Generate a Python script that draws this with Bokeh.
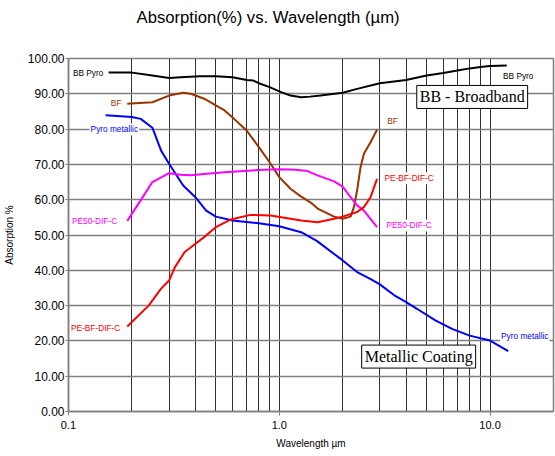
from bokeh.plotting import figure
from bokeh.models import FixedTicker, Label, PrintfTickFormatter, CustomJSTickFormatter, Title
from bokeh.embed import file_html
from bokeh.resources import INLINE

# ---------------- data ----------------
bb_pyro_x = [0.155, 0.2, 0.25, 0.3, 0.34, 0.42, 0.5, 0.6, 0.7, 0.75, 0.8, 0.9, 1.0, 1.13, 1.27, 1.4, 1.57, 2.0, 2.34, 3.0, 4.0, 5.0, 6.0, 7.0, 8.0, 9.0, 10.0, 12.0]
bb_pyro_y = [96.0, 96.0, 95.2, 94.5, 94.7, 95.0, 95.0, 94.7, 93.9, 93.8, 93.0, 91.9, 90.7, 89.5, 89.0, 89.2, 89.5, 90.3, 91.4, 93.0, 93.9, 95.2, 95.9, 96.6, 97.2, 97.6, 97.9, 98.0]

bf_x = [0.19, 0.25, 0.3, 0.35, 0.38, 0.44, 0.5, 0.55, 0.61, 0.7, 0.8, 0.9, 1.0, 1.13, 1.26, 1.41, 1.52, 1.82, 2.0, 2.18, 2.26, 2.34, 2.43, 2.52, 2.71, 2.91]
bf_y = [87.2, 87.6, 89.5, 90.3, 90.0, 88.6, 86.7, 85.3, 82.9, 79.6, 74.9, 70.6, 66.4, 63.1, 61.0, 59.2, 57.5, 55.2, 54.6, 55.2, 57.9, 62.6, 69.2, 73.0, 76.3, 79.8]

pyro_met_x = [0.15, 0.2, 0.22, 0.25, 0.275, 0.3, 0.35, 0.4, 0.45, 0.5, 0.6, 0.8, 1.0, 1.27, 1.5, 2.0, 2.34, 2.7, 3.0, 3.5, 4.0, 4.5, 5.5, 6.6, 8.0, 10.0, 12.2]
pyro_met_y = [83.9, 83.4, 82.9, 80.4, 73.9, 70.2, 64.0, 60.7, 56.9, 55.2, 54.1, 53.3, 52.5, 50.8, 48.4, 42.8, 39.5, 37.6, 36.0, 33.0, 31.0, 29.1, 25.8, 23.4, 21.5, 20.1, 17.1]

pe50_x = [0.19, 0.22, 0.25, 0.3, 0.34, 0.38, 0.44, 0.55, 0.79, 1.0, 1.2, 1.36, 1.52, 1.82, 2.0, 2.18, 2.34, 2.52, 2.91]
pe50_y = [54.0, 59.8, 65.0, 67.5, 67.1, 66.9, 67.3, 67.8, 68.4, 68.6, 68.5, 68.1, 66.9, 65.2, 63.7, 60.7, 58.4, 56.9, 52.2]

pebf_x = [0.19, 0.24, 0.275, 0.3, 0.32, 0.355, 0.4, 0.44, 0.5, 0.59, 0.73, 0.91, 1.27, 1.52, 1.82, 2.0, 2.34, 2.52, 2.71, 2.91]
pebf_y = [24.1, 30.0, 34.8, 37.1, 40.9, 45.1, 47.5, 49.4, 52.2, 54.4, 55.7, 55.5, 54.1, 53.6, 54.6, 55.2, 56.5, 57.9, 60.7, 65.9]

y_ticks = [0, 10, 20, 30, 40, 50, 60, 70, 80, 90, 100]
x_ticks = [0.1, 1, 10]
x_grid = [0.2, 0.3, 0.4, 0.5, 0.6, 0.7, 0.8, 0.9, 1, 2, 3, 4, 5, 6, 7, 8, 9, 10]

TITLE = "Absorption(%) vs. Wavelength (µm)"

BLACK = "#000000"
BROWN = "#993300"
BLUE = "#0000FF"
MAGENTA = "#FF00FF"
RED = "#FF0000"

p = figure(width=555, height=456, x_axis_type="log", x_range=(0.1, 20), y_range=(0, 100),
           output_backend="svg", toolbar_location=None,
           min_border_left=67, min_border_right=2, min_border_top=58, min_border_bottom=45)

# default title left empty; spacer (blank) title next to the frame, real title above it
p.title.text = ""
p.title.standoff = 0
p.add_layout(Title(text=" ", text_font_size="1px", standoff=23), "above")
p.add_layout(Title(text=TITLE, text_font="Liberation Sans", text_font_size="16.7px",
                   text_font_style="normal", text_color="black", align="left", offset=68,
                   vertical_align="top", standoff=8), "above")

p.outline_line_color = "#808080"
p.outline_line_width = 1.5
p.background_fill_color = "white"
p.border_fill_color = "white"

# grids
p.xgrid.ticker = FixedTicker(ticks=x_grid)
p.xgrid.grid_line_color = "#333333"
p.xgrid.grid_line_width = 1
p.ygrid.ticker = FixedTicker(ticks=y_ticks[1:-1])
p.ygrid.grid_line_color = "#808080"
p.ygrid.grid_line_width = 1.5

# axes
xaxis = p.below[0]
yaxis = p.left[0]
yaxis.ticker = FixedTicker(ticks=y_ticks)
yaxis.formatter = PrintfTickFormatter(format="%.2f")
xaxis.ticker = FixedTicker(ticks=x_ticks)
xaxis.formatter = CustomJSTickFormatter(code="return tick.toFixed(1);")
for ax in (xaxis, yaxis):
    ax.axis_line_color = "#808080"
    ax.axis_line_width = 1.5
    ax.major_tick_line_color = "#808080"
    ax.major_tick_out = 4
    ax.major_tick_in = 0
    ax.minor_tick_line_color = None
    ax.major_label_text_font = "Liberation Sans"
    ax.major_label_text_color = "#000000"
    ax.axis_label_text_font = "Liberation Sans"
    ax.axis_label_text_font_size = "10px"
    ax.axis_label_text_font_style = "normal"
    ax.axis_label_text_color = "#000000"
yaxis.major_label_text_font_size = "12px"
xaxis.major_label_text_font_size = "11px"
xaxis.axis_label = "Wavelength µm"
yaxis.axis_label = "Absorption %"
yaxis.major_tick_out = 3
yaxis.major_label_standoff = 1
xaxis.major_label_standoff = 5
yaxis.axis_label_standoff = 10
xaxis.axis_label_standoff = 6

# series
p.line(bb_pyro_x, bb_pyro_y, line_color=BLACK, line_width=2)
p.line(bf_x, bf_y, line_color=BROWN, line_width=2)
p.line(pyro_met_x, pyro_met_y, line_color=BLUE, line_width=2)
p.line(pe50_x, pe50_y, line_color=MAGENTA, line_width=2)
p.line(pebf_x, pebf_y, line_color=RED, line_width=2)

series_labels = [
    ("BB Pyro", 0.148, 96.0, "right", BLACK),
    ("BB Pyro", 11.4, 95.0, "left", BLACK),
    ("BF", 0.18, 87.4, "right", BROWN),
    ("BF", 3.22, 82.2, "left", BROWN),
    ("Pyro metallic", 0.165, 79.9, "center", BLUE),
    ("Pyro metallic", 11.15, 21.3, "left", BLUE),
    ("PE50-DIF-C", 0.172, 54.1, "right", MAGENTA),
    ("PE50-DIF-C", 3.19, 52.7, "left", MAGENTA),
    ("PE-BF-DIF-C", 0.178, 23.7, "right", RED),
    ("PE-BF-DIF-C", 3.12, 66.1, "left", RED),
]
for txt, lx, ly, al, col in series_labels:
    p.add_layout(Label(x=lx, y=ly, text=txt, text_align=al, text_baseline="middle",
                       text_color=col, text_font="Liberation Sans", text_font_size="8.3px",
                       background_fill_color="white", padding=1))

box_labels = [
    ("BB - Broadband", 4.49, 85.85, "16px"),
    ("Metallic Coating", 2.46, 12.3, "16px"),
]
for txt, lx, ly, fs in box_labels:
    p.add_layout(Label(x=lx, y=ly, text=txt, text_align="left", text_baseline="bottom",
                       text_color="black", text_font="Liberation Serif", text_font_size=fs,
                       background_fill_color="white", border_line_color="black",
                       border_line_width=1, padding=3))

open("out.html", "w").write(file_html(p, INLINE))
